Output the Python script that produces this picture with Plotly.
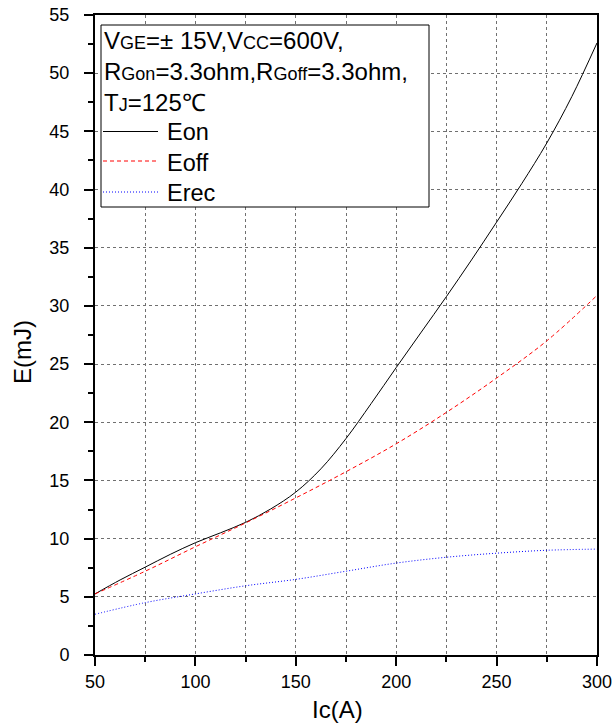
import plotly.graph_objects as go

ic_on = [50, 62.5, 75, 87.5, 100, 112.5, 125, 137.5, 150, 162.5, 175, 187.5, 200,
         212.5, 225, 237.5, 250, 262.5, 275, 287.5, 300]
eon = [5.25, 6.45, 7.55, 8.65, 9.65, 10.5, 11.4, 12.55, 14.0, 16.0, 18.6, 21.6, 24.7,
       27.75, 30.8, 33.95, 37.2, 40.5, 44.0, 48.0, 52.6]

ic = [50, 75, 100, 125, 150, 175, 200, 225, 250, 275, 300]
eoff = [5.25, 7.2, 9.3, 11.35, 13.5, 15.75, 18.15, 20.85, 23.8, 27.0, 30.9]
erec = [3.5, 4.5, 5.25, 5.95, 6.5, 7.2, 7.9, 8.4, 8.75, 9.0, 9.1]

series_names = ["Eon", "Eoff", "Erec"]
series_colors = ["black", "red", "blue"]
series_dash = ["solid", "4px,3px", "1px,2px"]

FONT = "Liberation Sans, Arial, sans-serif"
sm = "<span style='font-size:18px'>%s</span>"
cond_text = ("V" + sm % "GE" + "=± 15V,V" + sm % "CC" + "=600V,<br>"
             "R" + sm % "Gon" + "=3.3ohm,R" + sm % "Goff" + "=3.3ohm,<br>"
             "T" + sm % "J" + "=125℃")

# plot area in pixels (for converting legend-box decoration positions)
W, H = 615, 725
ML, MR, MT, MB = 95, 18, 15, 70
PW, PH = W - ML - MR, H - MT - MB


def px(xp):
    return (xp - ML) / PW


def py(yp):
    return (H - MB - yp) / PH


fig = go.Figure()
for xs, ys, nm, col, dsh in zip([ic_on, ic, ic], [eon, eoff, erec], series_names, series_colors, series_dash):
    fig.add_trace(go.Scatter(x=xs, y=ys, mode="lines", name=nm, showlegend=False,
                             line=dict(color=col, width=1, dash=dsh, shape="spline", smoothing=1)))

GRID = "#707070"
axis_common = dict(showline=True, linecolor="black", linewidth=2, mirror=True,
                   ticks="outside", tickcolor="black", tickwidth=2, ticklen=9,
                   tickfont=dict(size=18, color="black", family=FONT),
                   showgrid=True, gridcolor=GRID, griddash="dot", gridwidth=1,
                   zeroline=False, automargin=False)

# legend box (decoration)
shapes = [dict(type="rect", xref="paper", yref="paper", layer="above",
               x0=px(101), x1=px(429), y0=py(207), y1=py(25),
               fillcolor="white", line=dict(color="black", width=1))]
sample_y = [131.5, 161, 192]
for yy, col, dsh in zip(sample_y, series_colors, series_dash):
    shapes.append(dict(type="line", xref="paper", yref="paper", layer="above",
                       x0=px(103), x1=px(158), y0=py(yy), y1=py(yy),
                       line=dict(color=col, width=1, dash=dsh)))

annotations = [
    dict(xref="paper", yref="paper", x=px(102), y=py(25), xanchor="left", yanchor="top",
         text=cond_text, showarrow=False, align="left",
         font=dict(size=24, family=FONT, color="black")),
    dict(xref="paper", yref="paper", x=px(165), y=py(117), xanchor="left", yanchor="top",
         text="<br>".join(series_names), showarrow=False, align="left",
         font=dict(size=23.5, family=FONT, color="black")),
    dict(xref="paper", yref="paper", x=px(337), y=py(709), xanchor="center", yanchor="middle",
         text="Ic(A)", showarrow=False, font=dict(size=24, family=FONT, color="black")),
    dict(xref="paper", yref="paper", x=px(22), y=py(352), xanchor="center", yanchor="middle",
         text="E(mJ)", textangle=-90, showarrow=False, font=dict(size=24, family=FONT, color="black")),
]

fig.update_layout(
    width=W, height=H,
    margin=dict(l=ML, r=MR, t=MT, b=MB),
    paper_bgcolor="white", plot_bgcolor="white",
    font=dict(family=FONT, color="black", size=24),
    showlegend=False,
    shapes=shapes,
    annotations=annotations,
    xaxis=dict(range=[50, 300], dtick=50, tick0=50, ticklabelstandoff=0,
               minor=dict(dtick=25, ticks="outside", ticklen=5, tickwidth=2, tickcolor="black",
                          showgrid=True, gridcolor=GRID, griddash="dot", gridwidth=1),
               **axis_common),
    yaxis=dict(range=[0, 55], dtick=5, tick0=0, ticklabelstandoff=11,
               minor=dict(dtick=2.5, ticks="outside", ticklen=5, tickwidth=2, tickcolor="black",
                          showgrid=False),
               **axis_common),
)

fig.write_html("out.html")
